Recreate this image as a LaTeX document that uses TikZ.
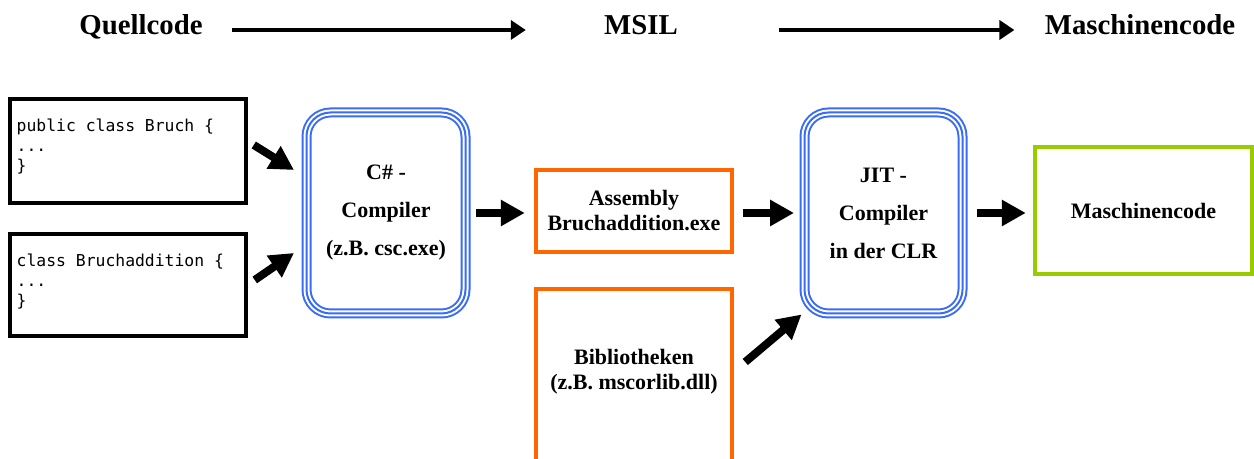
\documentclass[tikz,border=0pt]{standalone}
\usepackage{fontspec}
\setmainfont{Liberation Serif}
\newfontfamily\codefont{DejaVu Sans Mono}
\usetikzlibrary{arrows.meta,positioning}
\definecolor{jitblue}{HTML}{3A6CF4}
\definecolor{asmorange}{HTML}{FF6600}
\definecolor{codegreen}{HTML}{99CC00}

\tikzset{
  title/.style={font=\fontsize{14.4}{17}\selectfont\bfseries, inner sep=0pt,
    text height=0.7em, text depth=0.2em, anchor=base},
  body/.style={font=\fontsize{11}{12.5}\selectfont\bfseries, align=center},
  codebox/.style={draw=black, line width=1.75pt, inner sep=0pt,
    minimum width=118pt},
  codetext/.style={font=\codefont\fontsize{8.2}{10}\selectfont, align=left,
    inner sep=0pt, anchor=north west},
  compbox/.style={draw=jitblue, line width=1pt, double=white,
    double distance=3pt, rounded corners=12pt, inner sep=0pt,
    minimum width=79.5pt, minimum height=100.5pt,
    postaction={draw=jitblue, line width=1pt},
    font=\fontsize{11}{19}\selectfont\bfseries, align=center},
  asmbox/.style={draw=asmorange, line width=2.25pt, inner sep=0pt,
    minimum width=98pt},
  fat/.style={line width=4pt, -{Triangle[length=12pt, width=12.5pt]}},
  thin/.style={line width=2.25pt, -{Triangle[length=7.5pt, width=9.5pt]}},
}

\begin{document}
\begin{tikzpicture}[x=0.5pt,y=0.5pt]
  \path[use as bounding box, clip] (0,0) rectangle (1254,459);

  % top row
  \node[title] (quell) at (141,424) {Quellcode};
  \node[title] (msil) at (641,424) {MSIL};
  \node[title] (maschtitle) at (1140,424) {Maschinencode};
  \draw[thin] ([shift={(29,0)}]quell.east) -- ([shift={(-78,0)}]msil.west);
  \draw[thin] ([shift={(101,0)}]msil.east) -- ([shift={(-30,0)}]maschtitle.west);

  % sources
  \node[codebox, minimum height=52pt,
    label={[codetext, shift={(8,-21)}]north west:{public class Bruch \{\\...\\\}}}]
    (bruch) at (128,308) {};
  \node[codebox, minimum height=51pt,
    label={[codetext, shift={(8,-21)}]north west:{class Bruchaddition \{\\...\\\}}}]
    (addition) at (128,174) {};

  \node[compbox] (csc) at (386,246) {C\# -\\Compiler\\(z.B. csc.exe)};
  \node[asmbox, body, minimum height=41pt] (assembly) at (634,248)
    {Assembly\\Bruchaddition.exe};
  \node[asmbox, minimum height=95.5pt,
    label={[body, shift={(0,12.5)}]center:{Bibliotheken\\(z.B. mscorlib.dll)}}]
    (bibl) at (634,74.5) {};
  \node[compbox, minimum width=79pt] (jit) at (883.5,246) {JIT -\\Compiler\\in der CLR};
  \node[draw=codegreen, line width=2.25pt, body, minimum width=108.5pt,
    minimum height=63.5pt] (masch) at (1143.5,248.5) {Maschinencode};

  \draw[fat] ([shift={(6,6)}]bruch.east) -- ([shift={(-11.5,43)}]csc.west);
  \draw[fat] ([shift={(7,5)}]addition.east) -- ([shift={(-11.5,-40)}]csc.west);
  \draw[fat, shorten <=4.75pt, shorten >=4.5pt] (csc.east) -- (csc.east -| assembly.west);
  \draw[fat, shorten <=4.5pt, shorten >=4.75pt] (jit.west -| assembly.east) -- (jit.west);
  \draw[fat, shorten <=6.75pt, shorten >=3.5pt] (jit.east) -- (jit.east -| masch.west);
  \draw[fat] ([shift={(11,22.5)}]bibl.east) -- ([shift={(-2,0)}]jit.south west);
\end{tikzpicture}
\end{document}
